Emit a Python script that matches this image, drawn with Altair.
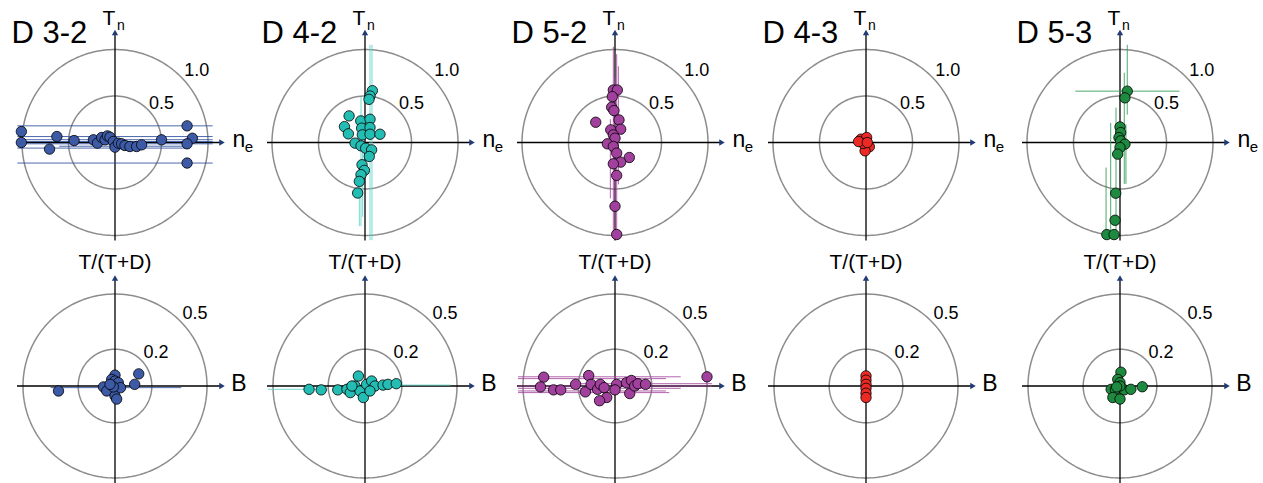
import altair as alt
import numpy as np
import pandas as pd

PANELS = ["D 3-2", "D 4-2", "D 5-2", "D 4-3", "D 5-3"]
COLORS = ["#3d5aa6", "#24bdb4", "#a2409e", "#ec2a25", "#1e8a3f"]
ERR_COLORS = ["#2d4f9e", "#5fd2ca", "#a4489f", "#ec2a25", "#2f9a55"]

TOP_RINGS = [0.5, 1.0]
TOP_RING_LABELS = ["0.5", "1.0"]
BOT_RINGS = [0.2, 0.5]
BOT_RING_LABELS = ["0.2", "0.5"]

# ---------------- top row: n_e (x) vs T_n (y) ----------------
D32_NE = [-1.007, -1.007, -0.704, -0.625, -0.44, -0.232, -0.189, -0.143, -0.107, -0.082, -0.054, -0.018,
          0.0, 0.036, 0.071, 0.107, 0.16, 0.232, 0.286, 0.5, 0.775, 0.832, 0.775, 0.775]
D32_TN = [0.118, 0.0, -0.071, 0.064, 0.021, 0.029, -0.007, 0.054, 0.029, 0.071, 0.057, 0.011,
          -0.05, -0.007, -0.014, -0.032, -0.043, -0.043, -0.025, 0.029, 0.179, 0.046, -0.014, -0.221]
D42_NE = [0.079, 0.054, 0.043, -0.171, -0.221, -0.179, -0.046, 0.054, -0.036, 0.054, -0.029, 0.054,
          0.161, -0.107, -0.043, 0.007, 0.071, 0.046, -0.032, -0.007, -0.043, -0.061, -0.079]
D42_TN = [0.557, 0.5, 0.464, 0.286, 0.171, 0.093, 0.232, 0.25, 0.154, 0.161, 0.082, 0.089,
          0.089, -0.007, -0.036, -0.061, -0.079, -0.15, -0.239, -0.3, -0.346, -0.418, -0.543]
D52_NE = [-0.018, 0.025, -0.029, -0.036, -0.011, -0.207, 0.043, 0.061, -0.046, -0.018, 0.0, -0.082,
          -0.018, 0.018, 0.154, 0.061, -0.018, 0.018, 0.0, 0.018]
D52_TN = [0.564, 0.564, 0.493, 0.379, 0.343, 0.218, 0.243, 0.143, 0.136, 0.082, 0.046, -0.014,
          -0.043, -0.114, -0.161, -0.211, -0.229, -0.354, -0.686, -0.989]
D43_NE = [-0.01, -0.054, 0.007, 0.036, -0.01, -0.03, -0.08, 0.014]
D43_TN = [0.018, 0.036, 0.054, -0.046, -0.09, -0.01, 0.01, 0.0]
D53_NE = [0.078, 0.053, 0.0, 0.007, -0.011, 0.007, 0.053, 0.0, -0.025, -0.046, -0.053, -0.142, -0.064]
D53_TN = [0.552, 0.48, 0.167, 0.107, 0.053, 0.018, -0.018, -0.054, -0.125, -0.545, -0.836, -0.99, -0.99]

# error bars (center, low, high)
D32_TOP_HERR = [(0.179, -1.05, 1.05), (0.064, -1.05, 1.05), (0.03, -0.98, 1.05), (0.01, -1.05, 1.05),
                (-0.014, -1.05, 1.05), (-0.04, -0.6, 0.78), (-0.06, -1.05, 0.78), (-0.221, -1.05, 1.05)]
D32_TOP_VERR = []
D42_TOP_HERR = []
D42_TOP_VERR = [(0.054, -1.05, 1.05), (0.075, -1.05, 1.05), (-0.043, -0.9, 0.49), (-0.061, -0.9, -0.3),
                (-0.025, -0.8, 0.3)]
D52_TOP_HERR = []
D52_TOP_VERR = [(-0.018, -1.02, 1.03), (0.018, -0.98, 0.95), (-0.05, -0.6, 0.25), (0.036, -0.45, 0.82),
                (0.0, -1.0, 0.7)]
D43_TOP_HERR = []
D43_TOP_VERR = []
D53_TOP_HERR = [(0.552, -0.48, 0.64)]
D53_TOP_VERR = [(0.078, 0.3, 1.05), (0.046, -0.445, 0.75), (-0.043, -0.97, 0.375), (-0.1, -0.97, 0.21),
                (-0.15, -0.97, -0.27), (0.064, -0.445, 0.196)]

# ---------------- bottom row: B (x) vs T/(T+D) (y) ----------------
D32_B = [-0.307, 0.129, 0.107, 0.0, -0.018, 0.0, 0.018, -0.0625, -0.045, 0.0, 0.009, 0.03, -0.009, -0.027]
D32_TTD = [-0.027, 0.066, 0.009, 0.059, 0.036, 0.027, 0.018, -0.005, -0.027, -0.054, -0.071, -0.009, -0.005, 0.009]
D42_B = [-0.304, -0.238, -0.148, -0.098, -0.080, -0.054, -0.036, -0.027, -0.009, 0.009, 0.036, 0.054,
         0.098, 0.125, 0.17, 0.027, -0.071]
D42_TTD = [-0.018, -0.021, -0.021, -0.018, -0.036, 0.0, 0.054, -0.027, -0.0625, 0.009, 0.027, 0.0,
           0.005, 0.009, 0.0125, -0.027, 0.0]
D52_B = [-0.3875, -0.405, -0.334, -0.295, -0.214, -0.161, -0.143, -0.13, -0.095, -0.080, -0.059, -0.045,
         -0.084, 0.009, 0.0, 0.080, 0.0625, 0.089, 0.107, 0.125, 0.166, 0.5]
D52_TTD = [0.048, -0.005, -0.021, -0.021, 0.009, -0.032, 0.057, 0.009, -0.018, 0.009, -0.009, -0.0625,
           -0.080, 0.009, -0.021, -0.041, 0.018, 0.030, 0.0, 0.0125, 0.009, 0.05]
D43_B = [0.0, 0.0, 0.0, 0.0, 0.0, 0.0]
D43_TTD = [0.055, 0.032, 0.009, -0.0125, -0.039, -0.0625]
D53_B = [0.005, -0.0125, 0.0, -0.048, -0.025, 0.023, 0.059, -0.039, 0.0, 0.121, 0.0, -0.018]
D53_TTD = [0.075, 0.036, 0.018, -0.018, -0.018, -0.021, -0.018, -0.0625, -0.071, -0.004, 0.0, -0.005]

D32_BOT_HERR = [(-0.009, -0.35, 0.36)]
D42_BOT_HERR = [(-0.018, -0.527, -0.205), (0.005, 0.08, 0.464)]
D52_BOT_HERR = [(0.05, -0.527, 0.357), (0.04, -0.527, 0.277), (0.0125, -0.205, 0.527), (0.0, -0.527, 0.527),
                (-0.0125, -0.527, 0.357), (-0.027, -0.527, 0.277), (-0.036, -0.527, 0.295)]
D43_BOT_HERR = []
D53_BOT_HERR = []

TOP_X = [D32_NE, D42_NE, D52_NE, D43_NE, D53_NE]
TOP_Y = [D32_TN, D42_TN, D52_TN, D43_TN, D53_TN]
TOP_HERR = [D32_TOP_HERR, D42_TOP_HERR, D52_TOP_HERR, D43_TOP_HERR, D53_TOP_HERR]
TOP_VERR = [D32_TOP_VERR, D42_TOP_VERR, D52_TOP_VERR, D43_TOP_VERR, D53_TOP_VERR]
BOT_X = [D32_B, D42_B, D52_B, D43_B, D53_B]
BOT_Y = [D32_TTD, D42_TTD, D52_TTD, D43_TTD, D53_TTD]
BOT_HERR = [D32_BOT_HERR, D42_BOT_HERR, D52_BOT_HERR, D43_BOT_HERR, D53_BOT_HERR]

# ---------------- layout (pixels) ----------------
COL_W = 251
TOP_H, BOT_H = 244, 239
CENTER_X = [115, 365, 615, 866, 1120]
TOP_CY, BOT_CY = 142.5, 142.0
TOP_PX, BOT_PX = 93.0, 184.0
FONT = "Liberation Sans"


def make_panel(i, top):
    px = TOP_PX if top else BOT_PX
    h = TOP_H if top else BOT_H
    cy = TOP_CY if top else BOT_CY
    cx = CENTER_X[i] - COL_W * i
    xs = alt.Scale(domain=[-cx / px, (COL_W - cx) / px], nice=False, zero=False)
    ys = alt.Scale(domain=[-(h - cy) / px, cy / px], nice=False, zero=False)

    def X(f):
        return alt.X(f, type="quantitative", scale=xs, axis=None)

    def Y(f):
        return alt.Y(f, type="quantitative", scale=ys, axis=None)

    layers = []
    rings = TOP_RINGS if top else BOT_RINGS
    t = np.linspace(0, 2 * np.pi, 241)
    ring_df = pd.concat([
        pd.DataFrame({"x": r * np.cos(t), "y": r * np.sin(t), "ring": k, "o": np.arange(len(t))})
        for k, r in enumerate(rings)
    ])
    layers.append(alt.Chart(ring_df).mark_line(color="#8c8c8c", strokeWidth=1.5).encode(
        x=X("x"), y=Y("y"), detail="ring:N", order="o:Q"))

    # axes lines
    left_px, right_px = -98, 107
    top_px = 110 if top else 108
    bottom_px = -98 if top else -97
    ax_h = pd.DataFrame({"x": [left_px / px], "x2": [right_px / px], "y": [0.0]})
    ax_v = pd.DataFrame({"x": [0.0], "y": [bottom_px / px], "y2": [top_px / px]})
    layers.append(alt.Chart(ax_h).mark_rule(color="black", strokeWidth=1.3).encode(
        x=X("x"), x2="x2:Q", y=Y("y")))
    layers.append(alt.Chart(ax_v).mark_rule(color="black", strokeWidth=1.3).encode(
        x=X("x"), y=Y("y"), y2="y2:Q"))
    arr = pd.DataFrame({"x": [right_px / px, 0.0], "y": [0.0, top_px / px],
                        "shape": ["triangle-right", "triangle-up"]})
    layers.append(alt.Chart(arr).mark_point(filled=True, size=40, color="#1f3b78", opacity=1).encode(
        x=X("x"), y=Y("y"), shape=alt.Shape("shape:N", scale=None)))

    # error bars
    herr = TOP_HERR[i] if top else BOT_HERR[i]
    verr = TOP_VERR[i] if top else []
    if herr:
        hdf = pd.DataFrame(herr, columns=["y", "x", "x2"])
        layers.append(alt.Chart(hdf).mark_rule(color=ERR_COLORS[i], strokeWidth=1, opacity=0.85).encode(
            x=X("x"), x2="x2:Q", y=Y("y")))
    if verr:
        vdf = pd.DataFrame(verr, columns=["x", "y", "y2"])
        layers.append(alt.Chart(vdf).mark_rule(color=ERR_COLORS[i], strokeWidth=1, opacity=0.85).encode(
            x=X("x"), y=Y("y"), y2="y2:Q"))

    # points
    pts = pd.DataFrame({"x": TOP_X[i] if top else BOT_X[i], "y": TOP_Y[i] if top else BOT_Y[i]})
    layers.append(alt.Chart(pts).mark_circle(size=108, color=COLORS[i], opacity=1, stroke="black",
                                             strokeWidth=0.8).encode(x=X("x"), y=Y("y")))

    # texts (center aligned)
    if top:
        txt = pd.DataFrame({
            "x": [-6 / px, 6 / px, 124 / px, 134 / px, 81.7 / px, 46.5 / px],
            "y": [117.5 / px, 112.5 / px, -4.2 / px, -9.5 / px, 66.5 / px, 33.2 / px],
            "text": ["T", "n", "n", "e", TOP_RING_LABELS[1], TOP_RING_LABELS[0]],
            "size": [21, 14, 23, 15, 18, 18],
        })
    else:
        txt = pd.DataFrame({
            "x": [0.0, 124 / px, 80 / px, 41 / px],
            "y": [116.7 / px, -5 / px, 66.7 / px, 28.4 / px],
            "text": ["T/(T+D)", "B", BOT_RING_LABELS[1], BOT_RING_LABELS[0]],
            "size": [21, 23, 18, 18],
        })
    layers.append(alt.Chart(txt).mark_text(align="center", baseline="alphabetic", font=FONT,
                                           color="black").encode(
        x=X("x"), y=Y("y"), text="text:N", size=alt.Size("size:Q", scale=None)))
    if top:
        ttl = pd.DataFrame({"x": [-103.5 / px], "y": [99.5 / px], "text": [PANELS[i]]})
        layers.append(alt.Chart(ttl).mark_text(align="left", baseline="alphabetic", font=FONT,
                                               fontSize=31, color="black").encode(
            x=X("x"), y=Y("y"), text="text:N"))

    return alt.layer(*layers).properties(width=COL_W, height=h)


panels = [make_panel(i, True) for i in range(5)] + [make_panel(i, False) for i in range(5)]
chart = alt.concat(*panels, columns=5, spacing=0, bounds="flush").properties(
    padding=0, background="white"
).configure_view(stroke=None)

chart.save("out.html", embed_options={"renderer": "svg", "actions": False})
